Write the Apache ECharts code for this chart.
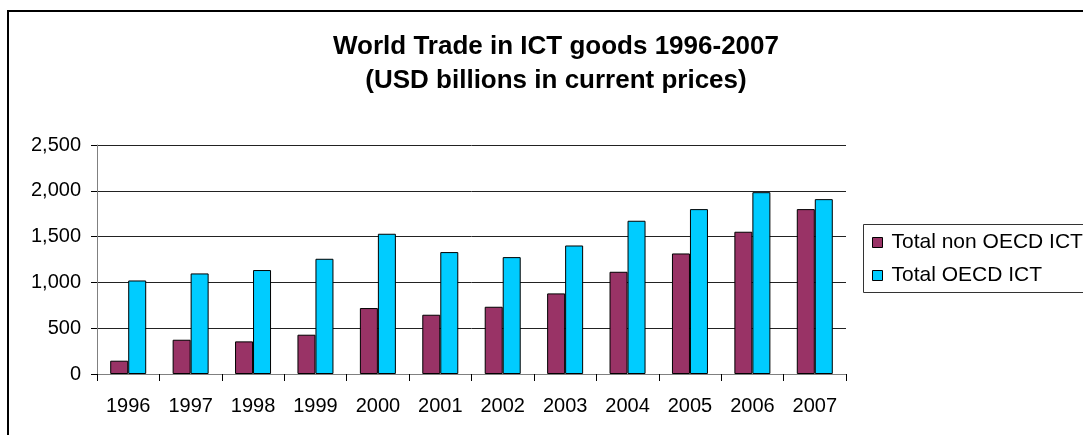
<!DOCTYPE html>
<html>
<head>
<meta charset="utf-8">
<title>World Trade in ICT goods 1996-2007</title>
<script src="https://cdn.jsdelivr.net/npm/echarts@6/dist/echarts.min.js"></script>
<style>
  html, body { margin: 0; padding: 0; background: #fff; overflow: hidden; }
  #chart { width: 1083px; height: 435px; }
</style>
</head>
<body>
<div id="chart"></div>
<script>
// Years on the category axis
const years = ['1996', '1997', '1998', '1999', '2000', '2001', '2002', '2003', '2004', '2005', '2006', '2007'];

// Trade values, USD billions in current prices
const nonOecdIct = [145, 374, 356, 429, 720, 647, 734, 880, 1116, 1316, 1553, 1800];
const oecdIct = [1021, 1098, 1135, 1258, 1531, 1331, 1276, 1403, 1673, 1800, 1985, 1909];

// Value axis ticks
const yTicks = [0, 500, 1000, 1500, 2000, 2500];

const seriesNames = ['Total non OECD ICT', 'Total OECD ICT'];
const seriesColors = ['#993366', '#00CCFF'];

const chart = echarts.init(document.getElementById('chart'), null, { renderer: 'canvas' });

const fontFamily = 'Liberation Sans, Arial, sans-serif';

chart.setOption({
  animation: false,
  backgroundColor: '#fff',
  textStyle: { fontFamily: fontFamily },
  graphic: [
    {
      // outer chart-area frame, running off the right and bottom edges
      type: 'rect',
      shape: { x: 8, y: 11, width: 1200, height: 600 },
      style: { fill: 'none', stroke: '#000', lineWidth: 2 },
      silent: true,
      z: 100
    },
    {
      // legend box, also running off the right edge
      type: 'rect',
      shape: { x: 863.5, y: 224.5, width: 300, height: 68 },
      style: { fill: '#fff', stroke: '#333', lineWidth: 1 },
      silent: true,
      z: 1
    }
  ],
  title: {
    text: 'World Trade in ICT goods 1996-2007\n(USD billions in current prices)',
    left: 551,
    textAlign: 'center',
    top: 25,
    textStyle: {
      fontFamily: fontFamily,
      fontSize: 26,
      fontWeight: 'bold',
      color: '#000',
      lineHeight: 34
    }
  },
  legend: {
    orient: 'vertical',
    left: 863,
    top: 224,
    padding: [8, 20, 8, 9],
    itemGap: 12,
    itemWidth: 10,
    itemHeight: 10,
    icon: 'rect',
    borderWidth: 0,
    textStyle: {
      fontFamily: fontFamily,
      fontSize: 21,
      color: '#000',
      padding: [0, 0, 0, 4]
    },
    itemStyle: { borderColor: '#000', borderWidth: 1 },
    data: seriesNames,
    z: 5
  },
  grid: {
    left: 97,
    right: 237,
    top: 145,
    bottom: 61,
    containLabel: false
  },
  xAxis: {
    type: 'category',
    data: years,
    axisLine: { show: true, lineStyle: { color: '#808080', width: 1 } },
    axisTick: { show: true, length: 7, lineStyle: { color: '#000' } },
    axisLabel: {
      fontFamily: fontFamily,
      fontSize: 20,
      color: '#000',
      margin: 22
    },
    splitLine: { show: false }
  },
  yAxis: {
    type: 'value',
    min: yTicks[0],
    max: yTicks[yTicks.length - 1],
    interval: yTicks[1] - yTicks[0],
    axisLine: { show: true, lineStyle: { color: '#808080', width: 1 } },
    axisTick: { show: true, length: 6, lineStyle: { color: '#000' } },
    axisLabel: {
      fontFamily: fontFamily,
      fontSize: 20,
      color: '#000',
      margin: 16,
      formatter: function (v) { return v.toLocaleString('en-US'); }
    },
    splitLine: { show: true, lineStyle: { color: '#222', width: 1 } }
  },
  series: [
    {
      name: seriesNames[0],
      type: 'bar',
      data: nonOecdIct,
      barWidth: 18,
      barGap: '0%',
      itemStyle: { color: seriesColors[0], borderColor: '#000', borderWidth: 1 }
    },
    {
      name: seriesNames[1],
      type: 'bar',
      data: oecdIct,
      barWidth: 18,
      barGap: '0%',
      itemStyle: { color: seriesColors[1], borderColor: '#000', borderWidth: 1 }
    }
  ]
});
</script>
</body>
</html>
